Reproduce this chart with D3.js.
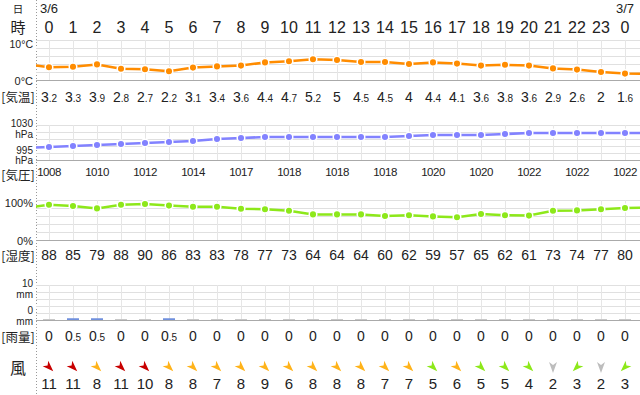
<!DOCTYPE html>
<html><head><meta charset="utf-8">
<script src="https://cdn.jsdelivr.net/npm/d3@7"></script>
<style>body{margin:0;background:#fff}svg{display:block}</style>
</head><body><svg id="c" width="640" height="395"></svg>
<script>
const hourLabels = ["0","1","2","3","4","5","6","7","8","9","10","11","12","13","14","15","16","17","18","19","20","21","22","23","0"];
const dateLabels = ["3/6","3/7"];
const dateIndex = [0,24];
const temperature = [3.2,3.3,3.9,2.8,2.7,2.2,3.1,3.4,3.6,4.4,4.7,5.2,5,4.5,4.5,4,4.4,4.1,3.6,3.8,3.6,2.9,2.6,2,1.6];
const temperatureEdge = [4.0,1.5];
const pressure = [1008,1009,1010,1011,1012,1013,1014,1016,1017,1018,1018,1018,1018,1018,1018,1019,1020,1020,1020,1021,1022,1022,1022,1022,1022];
const pressureEdge = [1007,1022];
const humidity = [88,85,79,88,90,86,83,83,78,77,73,64,64,64,60,62,59,57,65,62,61,73,74,77,80];
const humidityEdge = [80,81];
const rain = [0,0.5,0.5,0,0,0.5,0,0,0,0,0,0,0,0,0,0,0,0,0,0,0,0,0,0,0];
const windSpeed = [11,11,8,11,10,8,8,7,8,9,6,8,8,8,7,7,5,6,5,5,4,2,3,2,3];
const windDir = ["北西","北西","北西","北西","北西","北西","北西","北西","北西","北西","北西","北西","北西","北西","北西","北西","北西","北西","北西","北西","北西","北","北東","北","北東"];

const svg = d3.select("#c");
const LF = "'Liberation Sans','Noto Sans CJK JP',sans-serif";
const JF = "'Noto Sans CJK JP',sans-serif";
const idx = d3.range(hourLabels.length);
const x = d3.scaleLinear().domain([0,24]).range([49,625]);
const left = 36, right = 640;

svg.append("defs").append("clipPath").attr("id","clip")
  .append("rect").attr("x",left).attr("y",0).attr("width",right-left).attr("height",395);

// dotted separator
svg.append("line").attr("x1",left+0.5).attr("x2",left+0.5).attr("y1",0).attr("y2",395)
  .attr("stroke","#999").attr("stroke-dasharray","1,2");

// header
svg.append("text").attr("x",18).attr("y",12.5).attr("text-anchor","middle").attr("font-family",JF).attr("font-size",10.5).attr("fill","#222").text("日");
svg.append("text").attr("x",18).attr("y",33.2).attr("text-anchor","middle").attr("font-family",JF).attr("font-size",15).attr("fill","#222").text("時");
svg.selectAll(".date").data(dateLabels).join("text")
  .attr("x",(d,i)=>x(dateIndex[i])).attr("y",13).attr("text-anchor","middle")
  .attr("font-family",LF).attr("font-size",13).attr("fill","#222").text(d=>d);
svg.selectAll(".hr").data(hourLabels).join("text")
  .attr("x",(d,i)=>x(i)).attr("y",33).attr("text-anchor","middle")
  .attr("font-family",LF).attr("font-size",16).attr("fill","#222").text(d=>d);

function panel(top, bottom) {
  const g = svg.append("g");
  const n = 5;
  for (let k=0;k<=n;k++){
    const yy = top + (bottom-top)*k/n;
    g.append("line").attr("x1",left).attr("x2",right).attr("y1",Math.round(yy)+0.5).attr("y2",Math.round(yy)+0.5)
      .attr("stroke", k===n ? "#aaa" : "#e0e0e0").attr("stroke-width",1);
  }
  g.selectAll(".v").data(idx).join("line")
    .attr("x1",i=>x(i)+0.5).attr("x2",i=>x(i)+0.5).attr("y1",top).attr("y2",bottom)
    .attr("stroke","#e6e6e6");
  return g;
}
function axisLabel(lines, ys, size) {
  lines.forEach((t,i)=>svg.append("text").attr("x",33).attr("y",ys[i]).attr("text-anchor","end")
    .attr("font-family",LF).attr("font-size",size).attr("fill","#222").text(t));
}
function rowLabel(t, y) {
  svg.append("text").attr("x",18).attr("y",y).attr("text-anchor","middle").attr("font-family",JF)
    .attr("font-size",12.5).attr("fill","#222").text(t);
}
function series(vals, edge, y, color) {
  const pts = [[-1,edge[0]]].concat(vals.map((v,i)=>[i,v])).concat([[25,edge[1]]]);
  const g = svg.append("g").attr("clip-path","url(#clip)");
  g.append("path").datum(pts).attr("fill","none").attr("stroke",color).attr("stroke-width",2.5)
    .attr("d", d3.line().x(d=>x(d[0])).y(d=>y(d[1])));
  g.selectAll("circle").data(pts).join("circle")
    .attr("cx",d=>x(d[0])).attr("cy",d=>y(d[1])).attr("r",3.8)
    .attr("fill",color).attr("stroke","#fff").attr("stroke-width",1.5);
}
function decText(sel, v, big, small) {
  const parts = String(v).split(".");
  sel.append("tspan").attr("font-size",big).text(parts[0]);
  if (parts.length>1) sel.append("tspan").attr("font-size",small).text("."+parts[1]);
}

// Temperature
const yT = d3.scaleLinear().domain([0,10]).range([80,40]);
panel(40,80);
axisLabel(["10°C"],[47.5],10.5);
axisLabel(["0°C"],[85],11);
series(temperature, temperatureEdge, yT, "#ff8c00");
rowLabel("[気温]",102);
svg.selectAll(".tv").data(temperature).join("text")
  .attr("x",(d,i)=>x(i)).attr("y",102).attr("text-anchor","middle").attr("font-family",LF).attr("fill","#222")
  .each(function(d){ decText(d3.select(this), d, 14, 10); });

// Pressure
const yP = d3.scaleLinear().domain([995,1030]).range([160,125]);
panel(125,160);
axisLabel(["1030","hPa"],[126.5,137.5],10);
axisLabel(["995","hPa"],[153.5,163.5],10);
series(pressure, pressureEdge, yP, "#8282ff");
rowLabel("[気圧]",179.5);
svg.selectAll(".pv").data(pressure.map((v,i)=>[i,v]).filter(d=>d[0]%2===0)).join("text")
  .attr("x",d=>x(d[0])).attr("y",176).attr("text-anchor","middle").attr("font-family",LF)
  .attr("font-size",11.5).attr("letter-spacing",-0.5).attr("fill","#222").text(d=>d[1]);

// Humidity
const yH = d3.scaleLinear().domain([0,100]).range([240,200]);
panel(200,240);
axisLabel(["100%"],[207],11);
axisLabel(["0%"],[244.5],11);
series(humidity, humidityEdge, yH, "#8de81a");
rowLabel("[湿度]",261);
svg.selectAll(".hv").data(humidity).join("text")
  .attr("x",(d,i)=>x(i)).attr("y",260).attr("text-anchor","middle").attr("font-family",LF)
  .attr("font-size",14).attr("fill","#222").text(d=>d);

// Rain
const yR = d3.scaleLinear().domain([0,10]).range([320,285]);
panel(285,320);
axisLabel(["10","mm"],[286.5,297.5],10);
axisLabel(["0","mm"],[314,325],10);
svg.append("g").selectAll("rect").data(rain).join("rect")
  .attr("x",(d,i)=>x(i)-6).attr("width",12)
  .attr("y",d=>Math.min(yR(d),319)).attr("height",d=>Math.max(320-yR(d),1))
  .attr("fill",d=>d>0 ? "#7090dd" : "#c8c8c8");
rowLabel("[雨量]",341.5);
svg.selectAll(".rv").data(rain).join("text")
  .attr("x",(d,i)=>x(i)).attr("y",341).attr("text-anchor","middle").attr("font-family",LF).attr("fill","#222")
  .each(function(d){ decText(d3.select(this), d, 14, 10); });

// Wind
svg.append("text").attr("x",18).attr("y",374).attr("text-anchor","middle").attr("font-family",JF)
  .attr("font-size",16).attr("fill","#222").text("風");
const rot = {"北":0,"北西":-45,"北東":45,"西":-90,"東":90,"南":180};
const windColor = s => s>=10 ? "#c80000" : s>=6 ? "#ffb31a" : s>=3 ? "#8de81a" : "#bdbdbd";
svg.selectAll(".wa").data(windSpeed).join("path")
  .attr("d","M0,6 L-4,-5 L0,-2 L4,-5 Z")
  .attr("transform",(d,i)=>`translate(${x(i)},367) rotate(${rot[windDir[i]]})`)
  .attr("fill",d=>windColor(d));
svg.selectAll(".wv").data(windSpeed).join("text")
  .attr("x",(d,i)=>x(i)).attr("y",389).attr("text-anchor","middle").attr("font-family",LF)
  .attr("font-size",15).attr("fill","#222").text(d=>d);
</script></body></html>
